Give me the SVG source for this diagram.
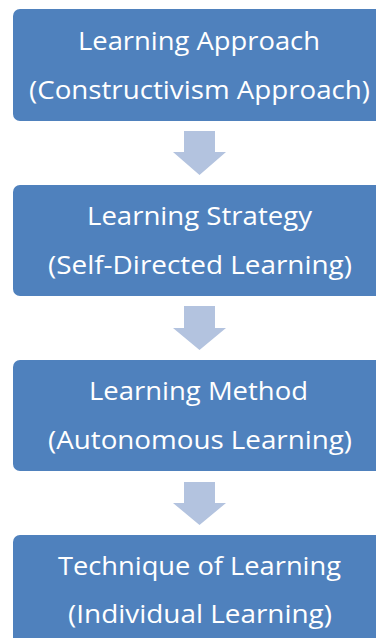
<svg xmlns="http://www.w3.org/2000/svg" width="376" height="638" viewBox="0 0 376 638">
<style>
.box{fill:#4F81BD;}
.arr{fill:#B3C3DF;}
.t{font-family:"Open Sans","Noto Sans","Liberation Sans",sans-serif;font-size:25px;fill:#FFFFFF;text-anchor:middle;}
</style>
<rect width="376" height="638" fill="#FFFFFF"/>
<g id="connectors">
<polygon class="arr" points="184,131 215,131 215,152 226,152 199.5,175 173,152 184,152"/>
<polygon class="arr" points="184,306 215,306 215,328 226,328 199.5,350 173,328 184,328"/>
<polygon class="arr" points="184,482 215,482 215,503 226,503 199.5,525 173,503 184,503"/>
</g>
<g id="node1">
<rect class="box" x="13" y="9" width="373" height="112" rx="7"/>
<text class="t" x="199" y="50" textLength="242" lengthAdjust="spacingAndGlyphs">Learning Approach</text>
<text class="t" x="199.5" y="99" textLength="341" lengthAdjust="spacingAndGlyphs">(Constructivism Approach)</text>
</g>
<g id="node2">
<rect class="box" x="13" y="185" width="373" height="111" rx="7"/>
<text class="t" x="199.5" y="225" textLength="225" lengthAdjust="spacingAndGlyphs">Learning Strategy</text>
<text class="t" x="200" y="274" textLength="304" lengthAdjust="spacingAndGlyphs">(Self-Directed Learning)</text>
</g>
<g id="node3">
<rect class="box" x="13" y="360" width="373" height="111" rx="7"/>
<text class="t" x="198.5" y="400" textLength="219" lengthAdjust="spacingAndGlyphs">Learning Method</text>
<text class="t" x="200" y="449" textLength="304" lengthAdjust="spacingAndGlyphs">(Autonomous Learning)</text>
</g>
<g id="node4">
<rect class="box" x="13" y="535" width="373" height="120" rx="7"/>
<text class="t" x="199.5" y="575" textLength="283" lengthAdjust="spacingAndGlyphs">Technique of Learning</text>
<text class="t" x="200" y="623" textLength="264" lengthAdjust="spacingAndGlyphs">(Individual Learning)</text>
</g>
</svg>
